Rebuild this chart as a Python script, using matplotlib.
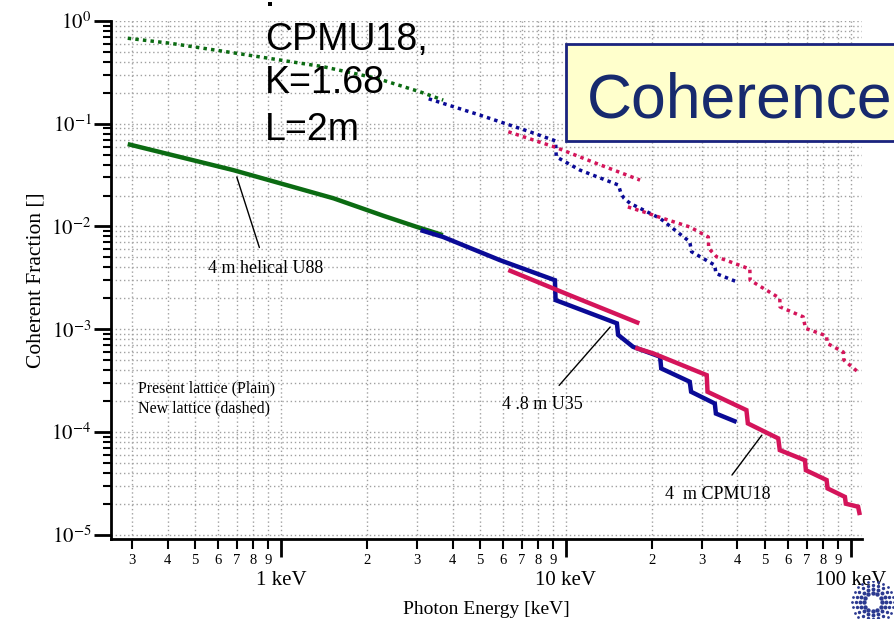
import numpy as np
import matplotlib
matplotlib.use("Agg")
import matplotlib.pyplot as plt
from matplotlib.patches import Rectangle
from matplotlib.ticker import FixedLocator, FixedFormatter, LogLocator, NullFormatter, FuncFormatter

plt.rcParams["font.family"] = ["Liberation Serif", "DejaVu Serif"]
plt.rcParams["mathtext.fontset"] = "stix"
plt.rcParams["axes.unicode_minus"] = False

# ---- data (photon energy in keV, coherent fraction) ----
# 4 m helical U88
u88_present_e = [0.29, 0.68, 1.0, 1.53, 2.3, 2.99, 3.7]
u88_present_f = [0.0634, 0.0354, 0.0262, 0.0188, 0.01265, 0.00993, 0.00824]
u88_new_e = [0.29, 0.41, 0.70, 1.41, 2.17, 3.07, 3.71]
u88_new_f = [0.68, 0.607, 0.485, 0.359, 0.277, 0.205, 0.170]

# 4.8 m U35
u35_present_e = [3.09, 3.71, 5.87, 9.15, 9.2, 15.1, 15.25, 17.2, 21.4, 21.6,
                 27.2, 27.5, 33.3, 33.6, 39.7]
u35_present_f = [0.00922, 0.0079, 0.0047, 0.003, 0.00192, 0.00114, 0.00088,
                 0.000674, 0.00054, 0.000415, 0.000308, 0.000246, 0.000189,
                 0.000151, 0.000125]
u35_new_e = [3.3, 4.99, 7.47, 9.2, 9.25, 11.2, 15.3, 15.6, 16.0, 16.8, 21.4,
             27.2, 27.6, 33.3, 33.6, 39.7]
u35_new_f = [0.175, 0.1215, 0.0836, 0.068, 0.0477, 0.0354, 0.0253, 0.021,
             0.0188, 0.0168, 0.012, 0.0071, 0.00568, 0.0042, 0.00349, 0.0029]

# 4 m CPMU18 (two harmonic groups each)
cpmu_present_a_e = [6.28, 10.5, 18.1]
cpmu_present_a_f = [0.00377, 0.0021, 0.00114]
cpmu_present_b_e = [17.5, 20.3, 31.2, 31.4, 43.0, 43.5, 55.6, 56.3, 69.0, 69.5,
                    82.2, 82.8, 95.3, 96.0, 106.0, 107.5]
cpmu_present_b_f = [0.00066, 0.00058, 0.000357, 0.000246, 0.000163, 0.000121,
                    8.65e-5, 6.65e-5, 5.3e-5, 4.24e-5, 3.4e-5, 2.82e-5,
                    2.33e-5, 2.0e-5, 1.87e-5, 1.55e-5]
cpmu_new_a_e = [6.28, 9.2, 12.8, 18.2]
cpmu_new_a_f = [0.0836, 0.059, 0.0411, 0.0283]
cpmu_new_b_e = [16.5, 18.7, 21.9, 27.2, 31.6, 31.7, 33.8, 44.2, 44.3, 56.3,
                56.4, 68.0, 69.3, 82.2, 82.5, 94.0, 94.5, 107.6]
cpmu_new_b_f = [0.0155, 0.0139, 0.012, 0.0099, 0.0079, 0.00612, 0.00507,
                0.00385, 0.003, 0.002, 0.00165, 0.00132, 0.00102, 0.00086,
                0.00073, 0.0006, 0.0005, 0.00037]

x_major = [1, 10, 100]
x_major_labels = ["1 keV", "10 keV", "100 keV"]

GREEN = "#0b6b12"
BLUE = "#0a0a96"
RED = "#d4145a"

fig = plt.figure(figsize=(8.95, 6.19), dpi=100)
ax = fig.add_axes([0.124, 0.129, 0.839, 0.837])

solid = dict(lw=3.2, solid_capstyle="butt", solid_joinstyle="miter")
dotted = dict(lw=2.5, linestyle=(0, (1, 1.2)), dash_capstyle="butt")

ax.plot(u88_present_e, u88_present_f, color=GREEN, **solid)
ax.plot(u35_present_e, u35_present_f, color=BLUE, **solid)
ax.plot(cpmu_present_a_e, cpmu_present_a_f, color=RED, **solid)
ax.plot(cpmu_present_b_e, cpmu_present_b_f, color=RED, **solid)

ax.plot(u88_new_e, u88_new_f, color=GREEN, **dotted)
ax.plot(u35_new_e, u35_new_f, color=BLUE, **dotted)
ax.plot(cpmu_new_a_e, cpmu_new_a_f, color=RED, **dotted)
ax.plot(cpmu_new_b_e, cpmu_new_b_f, color=RED, **dotted)

ax.set_xscale("log")
ax.set_yscale("log")
ax.set_xlim(0.2533, 109.3)
ax.set_ylim(9.04e-6, 1.0)

ax.xaxis.set_major_locator(FixedLocator(x_major))
ax.xaxis.set_major_formatter(FixedFormatter(x_major_labels))
ax.xaxis.set_minor_locator(LogLocator(base=10, subs=np.arange(2, 10), numticks=20))
ax.xaxis.set_minor_formatter(FuncFormatter(
    lambda v, p: "%d" % round(v / 10 ** np.floor(np.log10(v) + 1e-9))))
ax.yaxis.set_major_locator(LogLocator(base=10, numticks=10))
ax.yaxis.set_major_formatter(FuncFormatter(
    lambda v, p: r"$10^{%d}$" % round(np.log10(v))))
ax.yaxis.set_minor_locator(LogLocator(base=10, subs=np.arange(2, 10), numticks=20))
ax.yaxis.set_minor_formatter(NullFormatter())

ax.tick_params(axis="x", which="major", direction="out", length=13, width=2,
               pad=10, labelsize=15)
ax.tick_params(axis="x", which="minor", direction="out", length=7, width=1.5,
               pad=4, labelsize=10.5)
ax.tick_params(axis="y", which="major", direction="out", length=12, width=2,
               pad=2, labelsize=15)
ax.tick_params(axis="y", which="minor", direction="out", length=6, width=1.5)

for s in ["top", "right"]:
    ax.spines[s].set_visible(False)
for s in ["left", "bottom"]:
    ax.spines[s].set_linewidth(2)

ax.grid(True, which="both", color="#a0a0a0", linestyle=(0, (1, 2)), linewidth=1)
ax.set_axisbelow(True)

ax.set_xlabel("Photon Energy [keV]", fontsize=14, labelpad=8)
ax.set_ylabel("Coherent Fraction []", fontsize=15.5, labelpad=4)

# annotations
line = dict(arrowstyle="-", color="black", lw=1, shrinkA=7, shrinkB=0)
ax.annotate("4 m helical U88", xy=(0.70, 0.0303), xytext=(0.886, 0.00394),
            ha="center", va="center", fontsize=13, arrowprops=line)
ax.annotate("4 .8 m U35", xy=(14.3, 0.00105), xytext=(8.3, 0.000187),
            ha="center", va="center", fontsize=13, arrowprops=line)
ax.annotate("4  m CPMU18", xy=(48.7, 9.3e-5), xytext=(34.1, 2.48e-5),
            ha="center", va="center", fontsize=13, arrowprops=line)
ax.text(0.315, 2.67e-4, "Present lattice (Plain)", fontsize=11.5, ha="left", va="center")
ax.text(0.315, 1.7e-4, "New lattice (dashed)", fontsize=11.5, ha="left", va="center")

# overlay text on the slide
W, H = 895.0, 619.0
sans = ["Liberation Sans", "DejaVu Sans"]
fig.add_artist(Rectangle((268 / W, 1 - 6 / H), 4 / W, 4 / H,
                         transform=fig.transFigure, facecolor="black", lw=0))
fig.text(265 / W, 1 - 50 / H, "CPMU18,", family=sans, fontsize=27, va="baseline")
fig.text(265 / W, 1 - 93 / H, "K=1.68", family=sans, fontsize=27, va="baseline")
fig.text(265 / W, 1 - 140 / H, "L=2m", family=sans, fontsize=27, va="baseline")

box = Rectangle((566 / W, 1 - 141 / H), 0.5, 97 / H, transform=fig.transFigure,
                facecolor="#ffffcc", edgecolor="#1a237e", lw=2, zorder=5)
fig.add_artist(box)
fig.text(587 / W, 1 - 117 / H, "Coherence", family=sans, fontsize=45,
         color="#172a6e", va="baseline", zorder=6)

# small dotted logo in the corner
lax = fig.add_axes([846 / W, 0, 54 / W, 38 / H])
lax.set_xlim(-27, 27)
lax.set_ylim(-19, 19)
lax.axis("off")
for r, n, s in [(9, 12, 10), (13, 16, 8), (17, 20, 6), (21, 24, 4)]:
    a = np.linspace(0, 2 * np.pi, n, endpoint=False)
    lax.scatter(r * np.cos(a), r * np.sin(a) - 2, s=s, color="#2b3990", lw=0)

fig.savefig("out.png", dpi=100)
